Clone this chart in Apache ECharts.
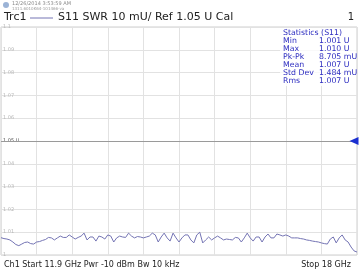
<!DOCTYPE html>
<html>
<head>
<meta charset="utf-8">
<script src="https://cdn.jsdelivr.net/npm/echarts@6/dist/echarts.min.js"></script>
<style>
  html, body { margin: 0; padding: 0; background: #fff; }
  #chart { width: 360px; height: 270px; }
</style>
</head>
<body>
<div id="chart"></div>
<script>
// sweep 11.9 GHz .. 18 GHz, 121 points
var startGHz = 11.9;
var stopGHz = 18;
var freqs = [];
for (var i = 0; i <= 120; i++) {
  freqs.push((startGHz + i * 0.05).toFixed(2));
}

// S11 SWR (U)
var swr = [
  1.0076, 1.0072, 1.0070, 1.0066, 1.0057, 1.0046, 1.0041, 1.0048, 1.0055, 1.0057,
  1.0050, 1.0048, 1.0057, 1.0059, 1.0064, 1.0068, 1.0077, 1.0075, 1.0066, 1.0075,
  1.0083, 1.0077, 1.0077, 1.0088, 1.0079, 1.0070, 1.0077, 1.0083, 1.0096, 1.0066,
  1.0079, 1.0079, 1.0061, 1.0083, 1.0079, 1.0070, 1.0088, 1.0083, 1.0057, 1.0075,
  1.0083, 1.0079, 1.0077, 1.0096, 1.0083, 1.0075, 1.0081, 1.0079, 1.0075, 1.0079,
  1.0083, 1.0096, 1.0088, 1.0057, 1.0079, 1.0096, 1.0075, 1.0061, 1.0096, 1.0075,
  1.0057, 1.0075, 1.0088, 1.0088, 1.0066, 1.0053, 1.0088, 1.0100, 1.0053, 1.0066,
  1.0079, 1.0066, 1.0075, 1.0083, 1.0075, 1.0066, 1.0070, 1.0068, 1.0066, 1.0077,
  1.0075, 1.0057, 1.0075, 1.0096, 1.0075, 1.0061, 1.0079, 1.0079, 1.0057, 1.0079,
  1.0092, 1.0075, 1.0075, 1.0092, 1.0088, 1.0083, 1.0088, 1.0083, 1.0075, 1.0075,
  1.0075, 1.0072, 1.0070, 1.0066, 1.0064, 1.0061, 1.0059, 1.0057, 1.0053, 1.0050,
  1.0048, 1.0070, 1.0079, 1.0053, 1.0075, 1.0088, 1.0066, 1.0057, 1.0035, 1.0018,
  1.0013
];

var refLevel = 1.05;
var statNames = ["Min", "Max", "Pk-Pk", "Mean", "Std Dev", "Rms"];
var statValues = ["1.001 U", "1.010 U", "8.705 mU", "1.007 U", "1.484 mU", "1.007 U"];

var font = "DejaVu Sans";
var traceColor = "#7474b4";
var statColor = "#2c2cc0";

var myChart = echarts.init(document.getElementById("chart"));

var graphics = [
  // little logo + time stamp
  { type: "circle", shape: { cx: 6, cy: 5, r: 3 }, style: { fill: "#9bb3d6" } },
  { type: "text", left: 12, top: 1, style: { text: "12/26/2014 3:53:59 AM", font: "5px " + font, fill: "#8a8a8a" } },
  { type: "text", left: 12, top: 7, style: { text: "1311.6010K64-101466-va", font: "4px " + font, fill: "#9a9a9a" } },
  // trace label
  { type: "text", left: 4, top: 12, style: { text: "Trc1", font: "11px " + font, fill: "#222" } },
  { type: "line", shape: { x1: 30, y1: 18, x2: 53, y2: 18 }, style: { stroke: traceColor, lineWidth: 1 } },
  { type: "text", left: 58, top: 12, style: { text: "S11 SWR 10 mU/ Ref 1.05 U Cal", font: "11px " + font, fill: "#222" } },
  { type: "text", right: 6, top: 12, style: { text: "1", font: "10px " + font, fill: "#222" } },
  // bottom info
  { type: "text", left: 4, bottom: 1, style: { text: "Ch1 Start 11.9 GHz Pwr -10 dBm Bw 10 kHz", font: "8px " + font, fill: "#222" } },
  { type: "text", right: 9, bottom: 1, style: { text: "Stop 18 GHz", font: "8px " + font, fill: "#222" } },
  // statistics box
  { type: "rect", shape: { x: 280, y: 28, width: 76, height: 58 }, style: { fill: "rgba(255,255,255,0.8)" }, z: 10 },
  { type: "text", left: 283, top: 29, z: 11, style: { text: "Statistics (S11)", font: "7.8px " + font, fill: statColor } }
];
statNames.forEach(function (n, k) {
  graphics.push({ type: "text", left: 283, top: 37 + k * 8, z: 11, style: { text: n, font: "7.8px " + font, fill: statColor } });
  graphics.push({ type: "text", left: 319, top: 37 + k * 8, z: 11, style: { text: statValues[k], font: "7.8px " + font, fill: statColor } });
});

var option = {
  animation: false,
  backgroundColor: "#fff",
  grid: {
    show: true,
    left: 1,
    right: 3,
    top: 27,
    bottom: 15,
    borderColor: "#cfcfcf",
    borderWidth: 1
  },
  xAxis: {
    type: "category",
    data: freqs,
    boundaryGap: false,
    axisLine: { show: false },
    axisTick: { show: false },
    axisLabel: { show: false },
    splitLine: {
      show: true,
      interval: 11,
      lineStyle: { color: "#e2e2e2", width: 1 }
    }
  },
  yAxis: {
    type: "value",
    min: 1.0,
    max: 1.1,
    interval: 0.01,
    axisLine: { show: false },
    axisTick: { show: false },
    axisLabel: {
      inside: true,
      margin: 2,
      fontFamily: font,
      fontSize: 5,
      color: "#b8b8b8",
      formatter: function (v) {
        var r = Math.round(v * 100) / 100;
        if (Math.abs(r - refLevel) < 1e-6) return "{ref|1.05 U}";
        return r.toString();
      },
      rich: { ref: { fontSize: 5, color: "#555", fontFamily: font } }
    },
    splitLine: { lineStyle: { color: "#e2e2e2", width: 1 } }
  },
  series: [
    {
      type: "line",
      data: swr,
      symbol: "none",
      lineStyle: { color: traceColor, width: 1 },
      markLine: {
        silent: true,
        symbol: "none",
        label: { show: false },
        lineStyle: { color: "#9a9a9a", width: 1, type: "solid" },
        data: [{ yAxis: refLevel }]
      },
      markPoint: {
        silent: true,
        symbol: "triangle",
        symbolSize: [8, 9],
        symbolRotate: 90,
        symbolOffset: [-3, 0],
        itemStyle: { color: "#1a2fd0" },
        label: { show: false },
        data: [{ coord: [freqs.length - 1, refLevel] }]
      }
    }
  ],
  graphic: graphics
};
myChart.setOption(option);
</script>
</body>
</html>
